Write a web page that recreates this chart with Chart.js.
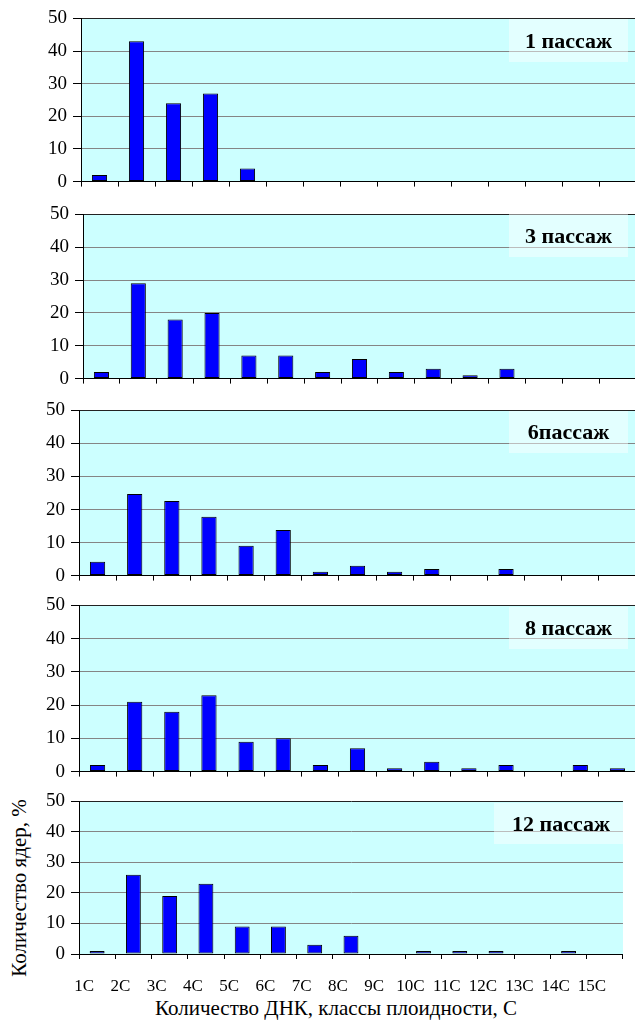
<!DOCTYPE html>
<html>
<head>
<meta charset="utf-8">
<script src="https://cdn.jsdelivr.net/npm/chart.js@4/dist/chart.umd.min.js"></script>
<style>
    html, body { margin: 0; padding: 0; background: #fff; overflow: hidden; }
    body { width: 635px; height: 1024px; position: relative; font-family: 'Liberation Serif', 'Times New Roman', serif; }
    .panel { position: absolute; left: 0; width: 636px; }
    .tag {
        position: absolute; background: rgba(255, 255, 255, 0.45);
        font-weight: bold; font-size: 22px; color: #000;
        display: flex; align-items: center; justify-content: center;
    }
    .ytitle {
        position: absolute; left: 19px; top: 888px; white-space: nowrap;
        font-size: 21px; transform: translate(-50%, -50%) rotate(-90deg);
    }
    .xtitle {
        position: absolute; left: 336px; top: 1008px; white-space: nowrap;
        font-size: 21px; transform: translate(-50%, -50%);
    }
</style>
</head>
<body>
<div class="ytitle">Количество ядер, %</div>
<div class="xtitle">Количество ДНК, классы плоидности, С</div>
<script>
    // Ploidy classes and share of nuclei (%) for each passage
    const categories = ['1C', '2C', '3C', '4C', '5C', '6C', '7C', '8C', '9C', '10C', '11C', '12C', '13C', '14C', '15C'];
    const passage1 = [2, 43, 24, 27, 4, 0, 0, 0, 0, 0, 0, 0, 0, 0, 0];
    const passage3 = [2, 29, 18, 20, 7, 7, 2, 6, 2, 3, 1, 3, 0, 0, 0];
    const passage6 = [4.2, 24.7, 22.6, 17.8, 9, 13.8, 1.2, 3, 1.2, 2, 0, 2, 0, 0, 0];
    const passage8 = [2, 21, 18, 23, 9, 10, 2, 7, 1, 3, 1, 2, 0, 2, 1];
    const passage12 = [1, 26, 19, 23, 9, 9, 3, 6, 0, 1, 1, 1, 0, 1, 0];
    const panelTitles = ['1 пассаж', '3 пассаж', '6пассаж', '8 пассаж', '12 пассаж'];
    const yMin = 0, yMax = 50, yStep = 10;

    const series = [passage1, passage3, passage6, passage8, passage12];

    // plot box of every panel: left edge, top and bottom of the plot area
    const panels = [
        { left: 81, top: 17, bottom: 183, tag: [509, 19, 119, 43] },
        { left: 83, top: 213, bottom: 380, tag: [509, 214, 119, 43] },
        { left: 79, top: 409, bottom: 577, tag: [509, 411, 119, 42] },
        { left: 79, top: 604, bottom: 773, tag: [509, 607, 119, 42] },
        { left: 79, top: 800, bottom: 954, tag: [494, 803, 134, 41] }
    ];

    Chart.defaults.font.family = "'Liberation Serif', 'Times New Roman', serif";
    Chart.defaults.color = '#000';

    // room above/below the plot; kept larger than half a tick label so the
    // y axis label padding never pushes the plot area around
    const padTop = 16;

    panels.forEach(function (p, i) {
        const isLast = i === panels.length - 1;
        const axisH = isLast ? 45 : 16;

        const box = document.createElement('div');
        box.className = 'panel';
        box.style.top = (p.top - padTop) + 'px';
        box.style.height = (p.bottom - p.top + padTop + axisH) + 'px';
        const canvas = document.createElement('canvas');
        box.appendChild(canvas);
        document.body.appendChild(box);

        const tag = document.createElement('div');
        tag.className = 'tag';
        tag.style.left = p.tag[0] + 'px';
        tag.style.top = p.tag[1] + 'px';
        tag.style.width = p.tag[2] + 'px';
        tag.style.height = p.tag[3] + 'px';
        tag.textContent = panelTitles[i];

        new Chart(canvas.getContext('2d'), {
            type: 'bar',
            data: {
                labels: categories,
                datasets: [{
                    data: series[i],
                    backgroundColor: '#0000FF',
                    borderColor: '#000',
                    borderWidth: 1,
                    borderSkipped: false,
                    barPercentage: 0.41,
                    categoryPercentage: 1
                }]
            },
            options: {
                responsive: true,
                maintainAspectRatio: false,
                animation: false,
                layout: {
                    autoPadding: false,
                    padding: { top: padTop, right: 0, bottom: 0, left: 0 }
                },
                plugins: {
                    legend: { display: false },
                    tooltip: { enabled: false }
                },
                scales: {
                    x: {
                        offset: true,
                        grid: {
                            offset: true,
                            drawOnChartArea: false,
                            drawTicks: true,
                            tickLength: 5,
                            tickColor: '#000'
                        },
                        border: { color: '#000', width: 1 },
                        ticks: {
                            display: isLast,
                            autoSkip: false,
                            maxRotation: 0,
                            labelOffset: -13,
                            padding: 17,
                            font: { size: 17 }
                        },
                        afterFit: function (scale) { scale.height = axisH; }
                    },
                    y: {
                        min: yMin,
                        max: yMax,
                        grid: {
                            color: function (c) { return c.tick && c.tick.value === yMax ? '#222' : '#858585'; },
                            tickColor: '#000',
                            tickLength: 8,
                            lineWidth: 1
                        },
                        border: { color: '#000', width: 1 },
                        ticks: {
                            stepSize: yStep,
                            padding: 6,
                            font: { size: 19 }
                        },
                        afterFit: function (scale) { scale.width = p.left; }
                    }
                }
            },
            plugins: [{
                id: 'plotFill',
                beforeDraw: function (chart) {
                    const a = chart.chartArea;
                    const ctx = chart.ctx;
                    ctx.save();
                    ctx.fillStyle = '#CCFFFF';
                    ctx.fillRect(a.left, a.top, a.right - a.left, a.bottom - a.top);
                    ctx.restore();
                }
            }]
        });

        document.body.appendChild(tag);
    });
</script>
</body>
</html>
